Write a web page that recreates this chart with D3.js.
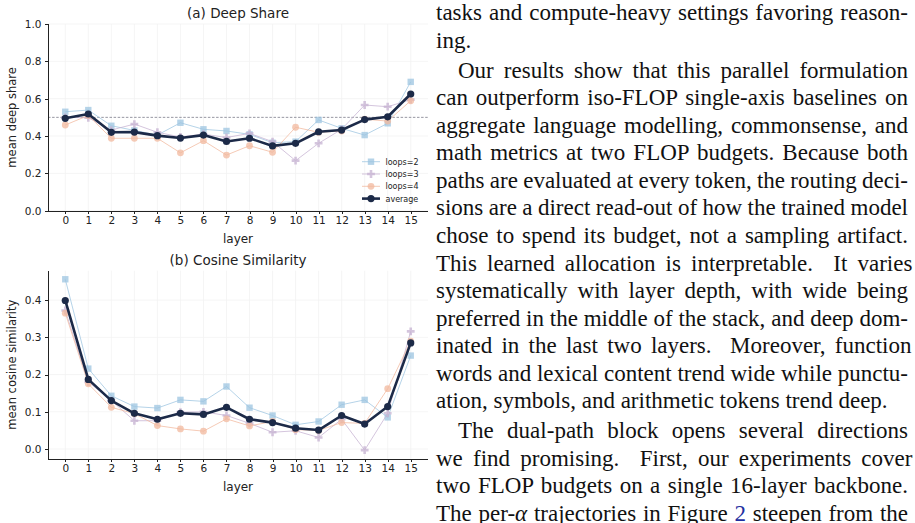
<!DOCTYPE html>
<html>
<head>
<meta charset="utf-8">
<script src="https://cdn.jsdelivr.net/npm/d3@7"></script>
<style>
  body { margin: 0; background: #fff; width: 915px; height: 523px; overflow: hidden; position: relative; }
  #chart { position: absolute; left: 0; top: 0; }
  #chart text { font-family: "DejaVu Sans", sans-serif; fill: #222; }
  .grid line { stroke: #f2f2f2; stroke-width: 0.8; }
  .axis path, .axis line { stroke: #222; stroke-width: 1; shape-rendering: crispEdges; }
  #prose {
    position: absolute; left: 436px; top: -1px; width: 472px;
    font-family: "Liberation Serif", "Times New Roman", serif;
    font-size: 23px; line-height: 27.55px; color: #111;
  }
  #prose p { margin: 0; }
  #prose p + p { margin-top: 2.6px; }
  #prose .l { display: block; white-space: nowrap; }
  #prose .ind { padding-left: 22px; }
  #prose .ref { color: #1f2f9f; }
</style>
</head>
<body>
<svg id="chart" width="432" height="523"></svg>
<div id="prose"></div>
<script>
const layers = d3.range(16);

// (a) deep share per layer
const shareLoops2 = [0.530, 0.539, 0.455, 0.430, 0.405, 0.471, 0.436, 0.427, 0.409, 0.364, 0.370, 0.486, 0.441, 0.405, 0.468, 0.690];
const shareLoops3 = [0.500, 0.498, 0.432, 0.464, 0.420, 0.395, 0.410, 0.392, 0.414, 0.370, 0.268, 0.361, 0.436, 0.566, 0.557, 0.595];
const shareLoops4 = [0.459, 0.510, 0.388, 0.388, 0.388, 0.310, 0.375, 0.298, 0.348, 0.313, 0.447, 0.420, 0.427, 0.490, 0.480, 0.589];
const shareAvg    = [0.495, 0.518, 0.420, 0.421, 0.402, 0.389, 0.405, 0.371, 0.388, 0.347, 0.361, 0.423, 0.432, 0.488, 0.503, 0.625];

// (b) cosine similarity per layer
const cosLoops2 = [0.456, 0.216, 0.143, 0.114, 0.110, 0.132, 0.128, 0.168, 0.111, 0.090, 0.065, 0.074, 0.119, 0.132, 0.085, 0.251];
const cosLoops3 = [0.372, 0.180, 0.130, 0.076, 0.076, 0.099, 0.100, 0.090, 0.069, 0.045, 0.049, 0.031, 0.080, -0.003, 0.096, 0.316];
const cosLoops4 = [0.365, 0.175, 0.112, 0.095, 0.063, 0.054, 0.048, 0.081, 0.062, 0.074, 0.052, 0.050, 0.071, 0.069, 0.162, 0.290];
const cosAvg    = [0.399, 0.187, 0.130, 0.096, 0.080, 0.096, 0.093, 0.112, 0.080, 0.071, 0.056, 0.051, 0.090, 0.067, 0.114, 0.285];

const shareTicks = [0, 0.2, 0.4, 0.6, 0.8, 1.0];
const cosTicks = [0, 0.1, 0.2, 0.3, 0.4];
const legendLabels = ["loops=2", "loops=3", "loops=4", "average"];

const styles = [
  { color: "#9cc4e0", marker: "square", width: 1, opacity: 0.75 },
  { color: "#c6b2d2", marker: "plus", width: 1, opacity: 0.75 },
  { color: "#f2b89e", marker: "circle", width: 1, opacity: 0.75 },
  { color: "#1c2a48", marker: "dot", width: 2.6, opacity: 1 }
];

const svg = d3.select("#chart");
const x = d3.scaleLinear().domain([-0.75, 15.75]).range([48, 428]);

function marker(g, kind, cx, cy, color, opacity) {
  if (kind === "square") {
    g.append("rect").attr("x", cx - 3.2).attr("y", cy - 3.2).attr("width", 6.4).attr("height", 6.4)
      .attr("fill", color).attr("opacity", opacity);
  } else if (kind === "plus") {
    g.append("path").attr("d", d3.symbol(d3.symbolCross, 34)()).attr("transform", `translate(${cx},${cy})`)
      .attr("fill", color).attr("opacity", opacity);
  } else if (kind === "circle") {
    g.append("circle").attr("cx", cx).attr("cy", cy).attr("r", 3.4).attr("fill", color).attr("opacity", opacity);
  } else {
    g.append("circle").attr("cx", cx).attr("cy", cy).attr("r", 3.6).attr("fill", color);
  }
}

function panel(opts) {
  const { title, ylabel, series, ticks, yDomain, yRange, titleY, refLine, fmt, legend } = opts;
  const y = d3.scaleLinear().domain(yDomain).range(yRange);
  const g = svg.append("g");

  // grid
  const grid = g.append("g").attr("class", "grid");
  grid.selectAll(".gx").data(layers).join("line")
    .attr("x1", d => x(d)).attr("x2", d => x(d)).attr("y1", yRange[0]).attr("y2", yRange[1]);
  grid.selectAll(".gy").data(ticks).join("line")
    .attr("x1", 48).attr("x2", 428).attr("y1", d => y(d)).attr("y2", d => y(d));

  if (refLine !== undefined) {
    g.append("line").attr("x1", 48).attr("x2", 428).attr("y1", y(refLine)).attr("y2", y(refLine))
      .attr("stroke", "#8a8a96").attr("stroke-width", 0.9).attr("stroke-dasharray", "2.5,1.6");
  }

  series.forEach((vals, i) => {
    const s = styles[i];
    const line = d3.line().x((d, k) => x(layers[k])).y(d => y(d));
    g.append("path").attr("d", line(vals)).attr("fill", "none")
      .attr("stroke", s.color).attr("stroke-width", s.width).attr("opacity", s.opacity)
      .attr("stroke-linejoin", "round");
    vals.forEach((v, k) => marker(g, s.marker, x(layers[k]), y(v), s.color, s.opacity));
  });

  // axes
  const ax = g.append("g").attr("class", "axis").attr("transform", `translate(0,${yRange[0]})`)
    .call(d3.axisBottom(x).tickValues(layers).tickSize(3.5).tickPadding(2.5).tickSizeOuter(0));
  ax.selectAll("text").attr("font-size", 10.5);
  const ay = g.append("g").attr("class", "axis").attr("transform", "translate(48,0)")
    .call(d3.axisLeft(y).tickValues(ticks).tickFormat(fmt).tickSize(3.5).tickPadding(3).tickSizeOuter(0));
  ay.selectAll("text").attr("font-size", 10.5);
  ay.select(".domain").attr("d", `M0.5,${yRange[0]}V${yRange[1]}`);
  ax.select(".domain").attr("d", `M48,0.5H428`);

  g.append("text").attr("x", 238).attr("y", titleY).attr("text-anchor", "middle")
    .attr("font-size", 13.5).text(title);
  g.append("text").attr("x", 238).attr("y", yRange[0] + 32).attr("text-anchor", "middle")
    .attr("font-size", 12).text("layer");
  g.append("text").attr("transform", `translate(16,${(yRange[0] + yRange[1]) / 2}) rotate(-90)`)
    .attr("text-anchor", "middle").attr("font-size", 11.5).text(ylabel);

  if (legend) {
    legendLabels.forEach((lab, i) => {
      const s = styles[i];
      const ly = 161.7 + i * 12.3;
      g.append("line").attr("x1", 362).attr("x2", 380).attr("y1", ly).attr("y2", ly)
        .attr("stroke", s.color).attr("stroke-width", s.width).attr("opacity", s.opacity);
      marker(g, s.marker, 371, ly, s.color, s.opacity);
      g.append("text").attr("x", 385.5).attr("y", ly + 3).attr("font-size", 8).text(lab);
    });
  }
}

panel({
  title: "(a) Deep Share", ylabel: "mean deep share",
  series: [shareLoops2, shareLoops3, shareLoops4, shareAvg],
  ticks: shareTicks, yDomain: [0, 1], yRange: [210.7, 24], titleY: 18,
  refLine: 0.5, fmt: d3.format(".1f"), legend: true
});

panel({
  title: "(b) Cosine Similarity", ylabel: "mean cosine similarity",
  series: [cosLoops2, cosLoops3, cosLoops4, cosAvg],
  ticks: cosTicks, yDomain: [-0.026, 0.479], yRange: [458.7, 270.7], titleY: 265,
  fmt: d3.format(".1f"), legend: false
});

// body text column
const paragraphs = [
  [["tasks and compute-heavy settings favoring reason-", true], ["ing.", false]],
  [["Our results show that this parallel formulation", true],
   ["can outperform iso-FLOP single-axis baselines on", true],
   ["aggregate language modelling, commonsense, and", true],
   ["math metrics at two FLOP budgets. Because both", true],
   ["paths are evaluated at every token, the routing deci-", true],
   ["sions are a direct read-out of how the trained model", true],
   ["chose to spend its budget, not a sampling artifact.", true],
   ["This learned allocation is interpretable.&nbsp; It varies", true],
   ["systematically with layer depth, with wide being", true],
   ["preferred in the middle of the stack, and deep dom-", true],
   ["inated in the last two layers.&nbsp; Moreover, function", true],
   ["words and lexical content trend wide while punctu-", true],
   ["ation, symbols, and arithmetic tokens trend deep.", false]],
  [["The dual-path block opens several directions", true],
   ["we find promising.&nbsp; First, our experiments cover", true],
   ["two FLOP budgets on a single 16-layer backbone.", true],
   ["The per-<i>α</i> trajectories in Figure <span class=\"ref\">2</span> steepen from the", true]]
];

const prose = d3.select("#prose");
paragraphs.forEach((lines, pi) => {
  const p = prose.append("p");
  lines.forEach(([txt, just], li) => {
    const indent = li === 0 && pi > 0;
    const row = p.append("span").attr("class", "l" + (indent ? " ind" : ""));
    const inner = row.append("span").html(txt);
    if (just) {
      // spread the words so the line fills the column, like the typeset page
      const avail = 472 - (indent ? 22 : 0);
      const natural = inner.node().getBoundingClientRect().width;
      const gaps = (inner.text().match(/ /g) || []).length;
      if (gaps > 0) row.style("word-spacing", ((avail - natural) / gaps) + "px");
    }
  });
});
</script>
</body>
</html>
